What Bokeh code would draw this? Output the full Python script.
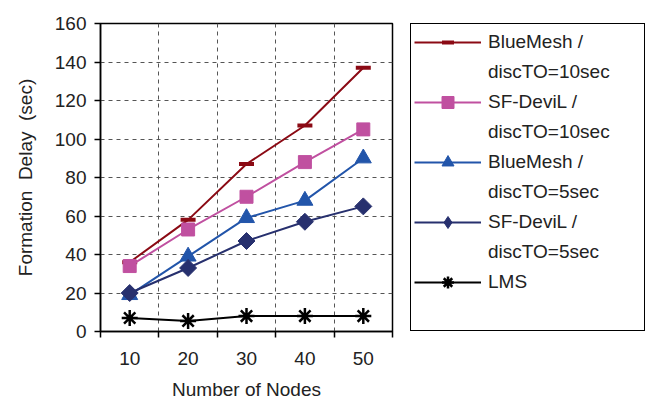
import math
from bokeh.plotting import figure
from bokeh.layouts import row
from bokeh.models import (FixedTicker, Legend, LegendItem, ColumnDataSource, Range1d)
from bokeh.embed import file_html
from bokeh.resources import INLINE

nodes = [10, 20, 30, 40, 50]
bluemesh_10 = [36, 58, 87, 107, 137]
sfdevil_10 = [34, 53, 70, 88, 105]
bluemesh_5 = [19, 39, 59, 68, 90]
sfdevil_5 = [20, 33, 47, 57, 65]
lms = [7, 5.5, 8, 8, 8]

y_ticks = [0, 20, 40, 60, 80, 100, 120, 140, 160]
x_ticks = nodes

FONT = "Liberation Sans"

p = figure(width=400, height=406, output_backend="svg", toolbar_location=None,
           x_range=Range1d(5, 55), y_range=Range1d(0, 160),
           min_border_left=100, min_border_top=23, min_border_bottom=75,
           min_border_right=8)

p.outline_line_color = "black"
p.outline_line_width = 1.5

# axes
for ax in (p.xaxis[0], p.yaxis[0]):
    ax.axis_line_color = "black"
    ax.axis_line_width = 1.5
    ax.major_label_text_font = FONT
    ax.major_label_text_font_size = "19px"
    ax.major_label_text_color = "#222222"
    ax.axis_label_text_font = FONT
    ax.axis_label_text_font_size = "19px"
    ax.axis_label_text_font_style = "normal"
    ax.axis_label_text_color = "#222222"

p.xaxis.ticker = FixedTicker(ticks=x_ticks, minor_ticks=[5, 15, 25, 35, 45, 55])
p.xaxis.major_tick_out = 0
p.xaxis.major_tick_in = 0
p.xaxis.minor_tick_out = 6
p.xaxis.minor_tick_in = 0
p.xaxis.minor_tick_line_color = "black"
p.xaxis.minor_tick_line_width = 1.5
p.xaxis.major_label_standoff = 14
p.xaxis.axis_label = "Number of Nodes"
p.xaxis.axis_label_standoff = 11

p.yaxis.ticker = FixedTicker(ticks=y_ticks)
p.yaxis.major_tick_out = 6
p.yaxis.major_tick_in = 0
p.yaxis.major_tick_line_color = "black"
p.yaxis.major_tick_line_width = 1.5
p.yaxis.minor_tick_line_color = None
p.yaxis.major_label_standoff = 8
p.yaxis.axis_label = "Formation\u00a0 Delay\u00a0 (sec)"
p.yaxis.axis_label_standoff = 16

# grids
p.xgrid.ticker = FixedTicker(ticks=[15, 25, 35, 45])
p.xgrid.grid_line_color = "#555555"
p.xgrid.grid_line_dash = "4 4"
p.xgrid.grid_line_width = 1
p.ygrid.ticker = FixedTicker(ticks=[20, 40, 60, 80, 100, 120, 140])
p.ygrid.grid_line_color = "#555555"
p.ygrid.grid_line_dash = "4 4"
p.ygrid.grid_line_width = 1

# label1, label2, values, colour, marker, size, line width, angle, legend marker
series = [
    ("BlueMesh /", "discTO=10sec", bluemesh_10, "#8B0A14", "dash", 15, 4, 0, "dash"),
    ("SF-DeviL /", "discTO=10sec", sfdevil_10, "#C050A0", "square", 13, 1, 0, "square"),
    ("BlueMesh /", "discTO=5sec", bluemesh_5, "#2255AA", "triangle", 16, 1, 0, "triangle"),
    ("SF-DeviL /", "discTO=5sec", sfdevil_5, "#27306E", "square", 12, 1, math.pi / 4, "diamond"),
    ("LMS", None, lms, "black", "asterisk", 16, 2.5, 0, "asterisk"),
]

# legend panel figure (its range keeps the series outside its frame)
lf = figure(width=245, height=406, output_backend="svg", toolbar_location=None,
            x_range=Range1d(-2, -1), y_range=Range1d(-2, -1),
            x_axis_type=None, y_axis_type=None,
            min_border_left=0, min_border_right=0, min_border_top=0, min_border_bottom=0)
lf.outline_line_color = None
lf.xgrid.visible = False
lf.ygrid.visible = False

blank = lf.scatter(x=[0], y=[0], size=1, fill_alpha=0, line_alpha=0)

items = []
for l1, l2, ys, col, mk, sz, lw, ang, lmk in series:
    src = ColumnDataSource(dict(x=nodes, y=ys))
    p.line("x", "y", source=src, line_color=col, line_width=2)
    p.scatter("x", "y", source=src, marker=mk, size=sz, line_color=col,
              line_width=lw, fill_color=col, angle=ang)
    g1 = lf.line("x", "y", source=src, line_color=col, line_width=2)
    g2 = lf.scatter("x", "y", source=src, marker=lmk, size=sz, line_color=col,
                    line_width=lw, fill_color=col)
    items.append(LegendItem(label=l1, renderers=[g1, g2]))
    if l2:
        items.append(LegendItem(label=l2, renderers=[blank]))
items.append(LegendItem(label=" ", renderers=[blank]))

legend = Legend(items=items, location=(10, 0))
legend.label_text_font = FONT
legend.label_text_font_size = "19px"
legend.label_text_color = "#222222"
legend.glyph_width = 67
legend.glyph_height = 30
legend.label_height = 30
legend.spacing = 0
legend.padding = 3
legend.label_standoff = 7
legend.label_width = 153
legend.margin = 0
legend.border_line_color = "black"
legend.border_line_alpha = 1
legend.border_line_width = 1.5
legend.background_fill_alpha = 1
lf.add_layout(legend, "center")

layout = row(p, lf)
open("out.html", "w").write(file_html(layout, INLINE))
